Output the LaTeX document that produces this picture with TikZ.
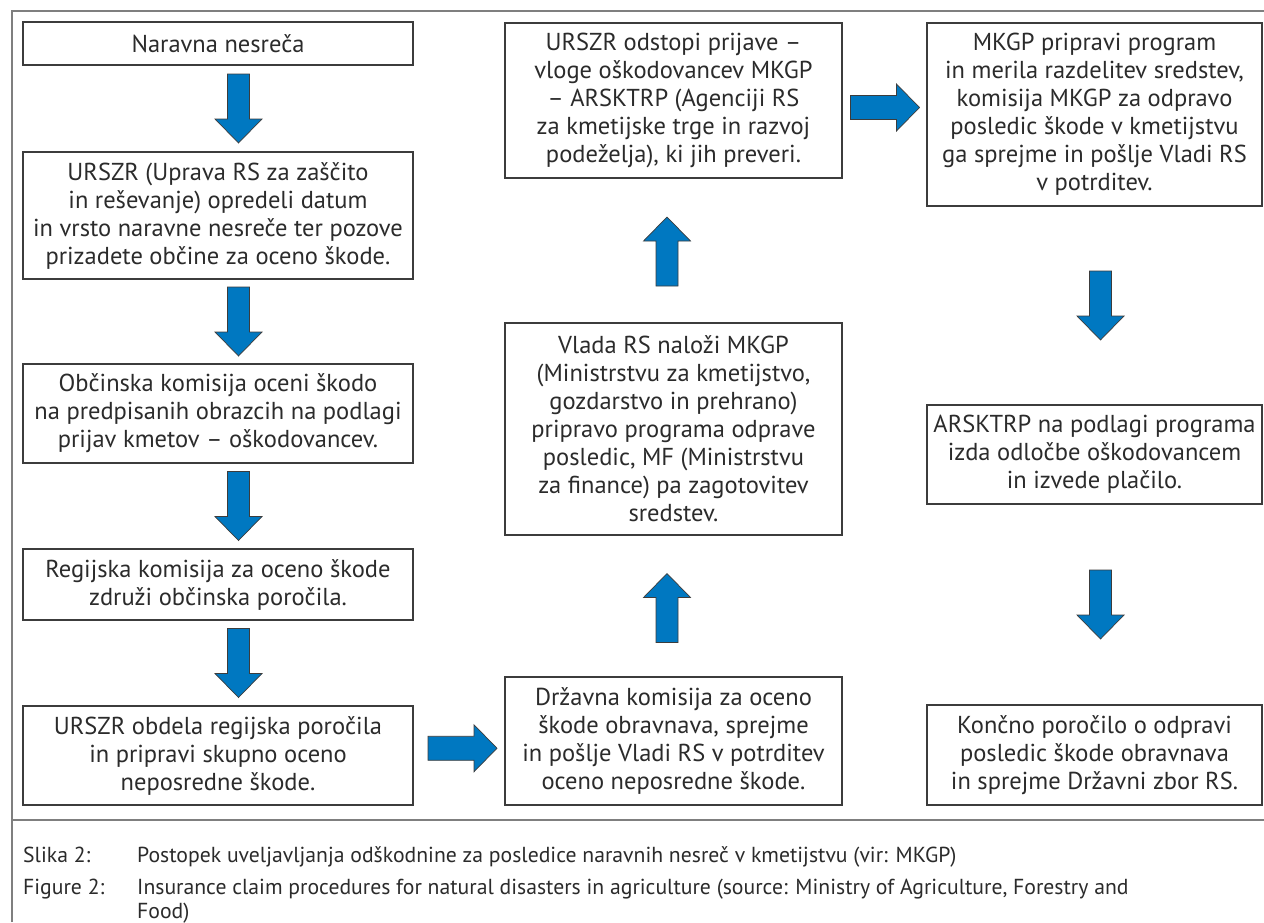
\documentclass[tikz,border=0pt]{standalone}
\usepackage{fontspec}
\setmainfont{PT Sans}
\usetikzlibrary{calc}
\definecolor{arrblue}{HTML}{0078C1}
\definecolor{boxline}{HTML}{3C3C3C}
\definecolor{txt}{HTML}{2B2B2B}
\definecolor{framegray}{HTML}{7F7F7F}
\tikzset{
  box/.style={draw=boxline, line width=1.1pt, align=center, text=txt, inner sep=0pt,
    font=\fontsize{24.5}{28}\selectfont},
  blockarrow/.style={fill=arrblue, draw=boxline, line width=0.7pt, line join=miter},
  capt/.style={anchor=base west, inner sep=0pt, text=txt, font=\fontsize{21.7}{25}\selectfont},
  framerule/.style={draw=framegray, line width=1.2pt},
  pics/downarr/.style={code={\draw[blockarrow] (-11,-34.5) -- (11,-34.5) -- (11,10.5) -- (23.5,10.5) -- (0,34.5) -- (-23.5,10.5) -- (-11,10.5) -- cycle;}},
  pics/uparr/.style={code={\draw[blockarrow] (-11,34.5) -- (11,34.5) -- (11,-10.5) -- (23.5,-10.5) -- (0,-34.5) -- (-23.5,-10.5) -- (-11,-10.5) -- cycle;}},
  pics/rightarr/.style={code={\draw[blockarrow] (-34.5,-12) -- (11.5,-12) -- (11.5,-23.5) -- (34.5,0) -- (11.5,23.5) -- (11.5,12) -- (-34.5,12) -- cycle;}},
}
\begin{document}
\begin{tikzpicture}[x=1pt,y=-1pt]
\useasboundingbox[fill=white] (0,0) rectangle (1264,922);
% frame
\coordinate (fbl) at (12,922);
\coordinate (ftl) at (12,11);
\coordinate (ftr) at (1264,11);
\coordinate (fml) at (12,820);
\coordinate (fmr) at (1264,820);
\draw[framerule] (fbl) -- (ftl) -- (ftr);
\draw[framerule] (fml) -- (fmr);

% left column
\node[box, minimum width=390pt, minimum height=43pt] (b1) at (218,43.5) {Naravna nesreča};
\node[box, minimum width=390pt, minimum height=127pt] (b2) at (218,215.5) {URSZR (Uprava RS za zaščito\\ in reševanje) opredeli datum\\ in vrsto naravne nesreče ter pozove\\ prizadete občine za oceno škode.};
\node[box, minimum width=390pt, minimum height=99pt] (b3) at (218,413.5) {Občinska komisija oceni škodo\\ na predpisanih obrazcih na podlagi\\ prijav kmetov – oškodovancev.};
\node[box, minimum width=390pt, minimum height=71pt] (b4) at (218,584.5) {Regijska komisija za oceno škode\\ združi občinska poročila.};
\node[box, minimum width=390pt, minimum height=99pt] (b5) at (218,755.5) {URSZR obdela regijska poročila\\ in pripravi skupno oceno\\ neposredne škode.};

% middle column
\node[box, minimum width=337pt, minimum height=155pt] (m1) at (673.5,100.5) {URSZR odstopi prijave –\\ vloge oškodovancev MKGP\\ – ARSKTRP (Agenciji RS\\ za kmetijske trge in razvoj\\ podeželja), ki jih preveri.};
\node[box, minimum width=337pt, minimum height=212pt] (m2) at (673.5,429) {Vlada RS naloži MKGP\\ (Ministrstvu za kmetijstvo,\\ gozdarstvo in prehrano)\\ pripravo programa odprave\\ posledic, MF (Ministrstvu\\ za finance) pa zagotovitev\\ sredstev.};
\node[box, minimum width=337pt, minimum height=128pt] (m3) at (673.5,741) {Državna komisija za oceno\\ škode obravnava, sprejme\\ in pošlje Vladi RS v potrditev\\ oceno neposredne škode.};

% right column
\node[box, minimum width=335pt, minimum height=183pt] (r1) at (1094.5,114.5) {MKGP pripravi program\\ in merila razdelitev sredstev,\\ komisija MKGP za odpravo\\ posledic škode v kmetijstvu\\ ga sprejme in pošlje Vladi RS\\ v potrditev.};
\node[box, minimum width=335pt, minimum height=99pt] (r2) at (1094.5,454.5) {ARSKTRP na podlagi programa\\ izda odločbe oškodovancem\\ in izvede plačilo.};
\node[box, minimum width=335pt, minimum height=100pt] (r3) at (1094.5,755) {Končno poročilo o odpravi\\ posledic škode obravnava\\ in sprejme Državni zbor RS.};

% block arrows
\pic at ($(b1.south)!0.5!(b2.north)+(20.5,0)$) {downarr};
\pic at ($(b2.south)!0.5!(b3.north)+(20.5,0)$) {downarr};
\pic at ($(b3.south)!0.5!(b4.north)+(20.5,0)$) {downarr};
\pic at ($(b4.south)!0.5!(b5.north)+(20.5,0)$) {downarr};
\pic at ($(b5.east)!0.5!(m3.west)+(3.5,0)$) {rightarr};
\pic at ($(m3.north)!0.5!(m2.south)+(-6.5,2)$) {uparr};
\pic at ($(m2.north)!0.5!(m1.south)+(-6.5,1)$) {uparr};
\pic at ($(m1.east)!0.5!(r1.west)+(0.5,0)$) {rightarr};
\pic at ($(r1.south)!0.5!(r2.north)+(6,0)$) {downarr};
\pic at ($(r2.south)!0.5!(r3.north)+(6,0)$) {downarr};

% caption
\node[capt] (c1a) at (23,862) {Slika 2:};
\node[capt] (c1b) at (137,862) {Postopek uveljavljanja odškodnine za posledice naravnih nesreč v kmetijstvu (vir: MKGP)};
\node[capt] (c2a) at (23,894) {Figure 2:};
\node[capt] (c2b) at (137,894) {Insurance claim procedures for natural disasters in agriculture (source: Ministry of Agriculture, Forestry and};
\node[capt] (c2c) at (137,918) {Food)};
\end{tikzpicture}
\end{document}
